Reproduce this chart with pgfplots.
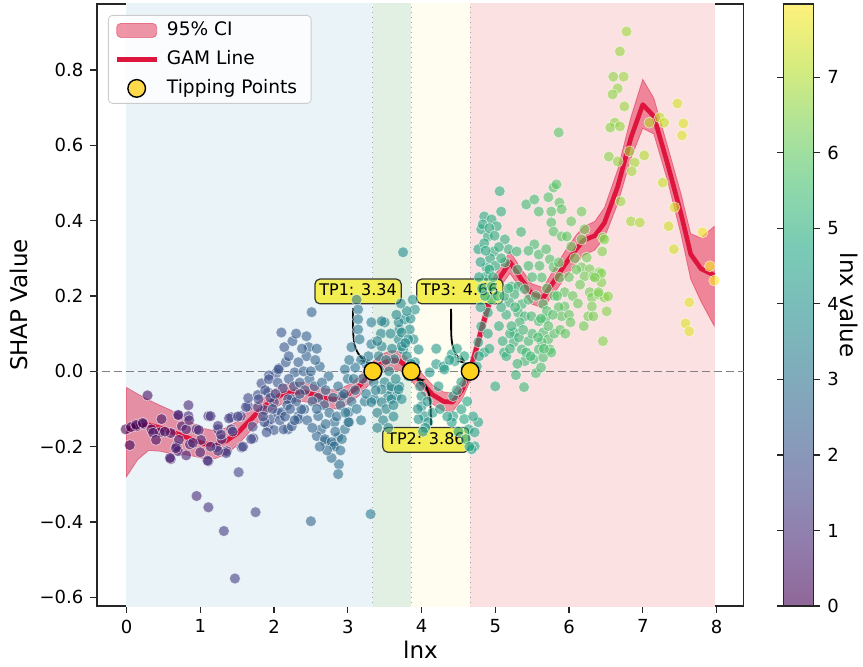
\documentclass[border=0pt]{standalone}
\usepackage{pgfplots}
\pgfplotsset{compat=1.18}
\usepackage{pgfplotstable}
\usetikzlibrary{arrows.meta}
\usepackage{fontspec}
\setmainfont{DejaVu Sans}

\definecolor{crim}{RGB}{222,22,62}
\definecolor{bgblue}{RGB}{233,243,248}
\definecolor{bggreen}{RGB}{225,240,227}
\definecolor{bgyellow}{RGB}{254,253,240}
\definecolor{bgred}{RGB}{252,225,227}
\definecolor{gold}{RGB}{255,210,30}
\definecolor{boxy}{RGB}{243,238,82}

\pgfplotsset{
  colormap={virA}{rgb255=(143,103,152) rgb255=(145,124,172) rgb255=(141,143,183) rgb255=(134,159,187) rgb255=(127,174,187) rgb255=(122,189,186) rgb255=(122,203,181) rgb255=(143,217,169) rgb255=(175,227,151) rgb255=(215,236,125) rgb255=(254,241,124)},
  colormap={vir}{rgb255=(68,1,84) rgb255=(72,36,117) rgb255=(65,68,135) rgb255=(53,95,141) rgb255=(42,120,142) rgb255=(33,145,140) rgb255=(34,168,132) rgb255=(68,191,112) rgb255=(122,209,81) rgb255=(189,223,38) rgb255=(253,231,37)},
  ciimg/.style={legend image code/.code={\draw[##1] (0pt,-3.5pt) rectangle (20pt,3.5pt);}},
  lineimg/.style={legend image code/.code={\draw[##1] (0pt,0pt) -- (20pt,0pt);}},
  markimg/.style={legend image code/.code={\draw[##1] plot coordinates {(10pt,0pt)};}},
}

\pgfplotstableread{
x y
-0.01 -0.154
0.045 -0.196
0.136 -0.146
0.226 -0.14
0.285 -0.064
0.339 -0.154
0.475 -0.127
0.45 -0.162
0.6 -0.233
0.71 -0.117
0.75 -0.146
0.68 -0.199
0.70 -0.212
0.84 -0.09
0.84 -0.119
0.81 -0.154
0.86 -0.194
0.81 -0.223
0.95 -0.154
1.0 -0.215
1.11 -0.119
1.14 -0.119
1.11 -0.239
1.24 -0.154
1.22 -0.202
1.29 -0.18
1.36 -0.212
1.42 -0.122
1.42 -0.154
1.52 -0.268
1.56 -0.202
1.55 -0.119
1.65 -0.093
1.72 -0.178
0.95 -0.331
1.11 -0.361
1.32 -0.424
1.47 -0.55
1.75 -0.374
2.5 -0.398
2.88 -0.247
0.85 -0.13
0.70 -0.116
0.6 -0.164
0.71 -0.182
0.67 -0.204
0.59 -0.23
0.98 -0.156
1.01 -0.182
0.9 -0.19
1.1 -0.237
1.24 -0.145
1.28 -0.168
1.39 -0.125
1.51 -0.12
1.44 -0.16
1.58 -0.2
1.35 -0.217
1.24 -0.211
1.14 -0.2
1.69 -0.18
1.71 -0.147
1.62 -0.095
1.65 -0.071
1.78 -0.063
1.83 -0.032
1.87 -0.103
1.92 -0.145
2.0 -0.156
1.96 -0.127
2.05 -0.111
2.03 -0.005
2.07 0.008
1.93 -0.011
1.78 -0.095
0.06 -0.148
0.13 -0.142
0.22 -0.137
0.36 -0.163
0.4 -0.182
0.52 -0.16
2.51 0.157
2.1 0.103
2.44 0.093
2.14 0.064
2.47 0.064
2.44 0.04
2.16 0.024
2.33 0.024
2.62 0.013
2.06 0.005
2.28 -0.003
2.74 -0.013
1.93 -0.021
2.87 -0.04
2.96 0.005
3.05 0.064
3.12 0.19
3.14 0.164
3.14 0.138
3.14 0.111
3.16 0.085
3.32 0.13
3.32 0.072
3.23 -0.08
2.92 -0.066
3.01 -0.109
2.6 -0.119
2.64 -0.154
2.58 -0.172
2.69 -0.186
2.8 -0.194
2.87 -0.175
2.96 -0.154
3.02 -0.135
2.87 -0.273
2.19 -0.154
1.9 -0.162
2.1 -0.109
2.33 -0.119
2.41 -0.101
2.0 -0.082
2.24 -0.074
1.79 -0.074
1.87 -0.135
1.92 -0.056
2.13 -0.154
2.24 -0.146
2.19 -0.074
2.37 -0.101
2.33 -0.127
2.69 -0.18
2.78 -0.188
2.82 -0.199
2.92 -0.18
2.82 -0.135
3.01 -0.135
2.05 -0.03
2.12 -0.045
2.2 -0.02
2.27 -0.04
2.35 -0.03
2.42 -0.05
2.48 -0.02
2.55 -0.04
2.6 -0.07
2.68 -0.09
2.75 -0.11
2.85 -0.12
2.9 -0.09
2.97 -0.11
3.05 -0.08
3.1 -0.05
3.2 -0.02
3.25 0.02
3.28 0.04
3.18 0.03
3.1 0.01
3.0 -0.02
2.56 0.03
2.38 0.06
2.25 0.08
2.18 -0.09
2.08 -0.13
1.98 -0.1
1.88 -0.05
2.3 -0.08
2.45 -0.13
2.52 -0.15
2.7 -0.14
2.9 -0.21
2.78 -0.23
2.72 -0.21
2.62 -0.2
3.08 -0.02
1.85 -0.12
1.95 -0.07
2.02 -0.06
2.15 -0.12
2.22 -0.1
2.28 -0.13
2.35 -0.06
2.4 0.0
2.5 0.0
2.52 -0.08
2.58 -0.1
2.65 -0.03
2.7 -0.05
2.8 -0.07
2.83 -0.16
2.95 -0.06
3.02 0.03
3.12 -0.1
3.18 -0.13
3.25 -0.06
2.3 0.1
2.2 0.04
2.58 0.06
3.75 0.316
3.5 0.13
3.91 0.164
3.77 0.138
3.84 0.111
3.7 0.111
3.89 0.085
3.69 0.085
3.75 0.058
3.96 0.058
3.91 0.024
4.41 0.045
4.2 0.019
4.3 0.013
4.11 -0.003
3.5 -0.029
3.42 0.005
3.59 -0.048
3.66 -0.066
3.55 -0.066
3.7 -0.04
4.0 -0.066
4.0 -0.093
4.04 -0.119
3.96 -0.127
4.09 -0.135
4.23 -0.04
4.43 -0.066
4.43 -0.119
4.54 -0.101
4.58 -0.127
4.64 -0.154
4.72 -0.162
4.72 -0.199
4.77 -0.135
4.68 -0.207
4.41 -0.135
4.54 -0.029
3.82 -0.013
3.36 -0.074
3.46 0.133
3.69 0.13
3.73 0.103
3.82 0.085
3.73 0.066
3.46 0.066
3.42 0.04
3.63 0.032
3.35 -0.029
3.46 -0.048
3.59 -0.04
3.69 -0.048
3.73 -0.074
3.59 -0.074
3.46 -0.082
3.32 -0.082
3.31 -0.379
4.45 0.027
4.31 0.005
3.38 -0.05
3.52 -0.1
3.62 -0.09
3.4 -0.11
3.56 0.0
3.65 -0.02
3.8 0.04
3.86 0.02
3.78 0.075
3.85 0.14
3.8 0.16
3.88 0.19
3.6 0.06
3.45 0.1
3.95 -0.1
4.05 -0.15
4.15 -0.11
4.08 -0.08
3.98 -0.04
4.25 -0.1
4.35 -0.12
4.5 -0.16
4.6 -0.18
4.62 -0.08
4.48 -0.05
4.38 0.03
4.6 0.01
4.65 -0.2
4.7 -0.12
3.4 0.08
3.52 0.03
3.58 0.1
3.66 0.15
3.72 0.18
3.62 -0.12
3.48 -0.13
3.4 -0.15
3.55 -0.15
4.02 -0.16
4.2 0.06
4.48 0.06
4.58 0.04
5.06 0.478
4.85 0.411
4.95 0.403
5.08 0.424
4.81 0.377
5.02 0.385
4.9 0.358
5.13 0.35
4.77 0.324
4.98 0.318
5.18 0.324
5.29 0.318
4.88 0.276
4.88 0.252
5.13 0.289
5.22 0.225
5.31 0.225
5.4 0.218
5.26 0.204
5.19 0.183
5.36 0.178
5.31 0.156
5.4 0.146
5.49 0.146
5.59 0.133
5.33 0.13
5.26 0.103
5.25 0.077
5.65 0.103
5.72 0.085
5.74 0.058
5.63 0.077
5.59 0.058
5.36 0.058
5.52 0.032
5.4 0.027
5.65 0.037
5.76 0.05
5.39 -0.042
4.95 0.225
4.95 0.191
4.9 0.156
4.81 0.119
4.77 0.077
4.85 0.05
4.75 0.013
5.42 0.443
5.53 0.456
5.59 0.424
5.72 0.462
5.79 0.488
5.83 0.496
5.76 0.424
5.87 0.448
5.76 0.395
5.79 0.371
5.9 0.358
5.53 0.337
5.59 0.31
5.69 0.324
5.74 0.297
5.79 0.276
5.86 0.289
5.63 0.249
5.87 0.249
5.94 0.21
5.94 0.172
5.86 0.17
5.9 0.146
5.65 0.178
6.03 0.398
6.17 0.424
5.97 0.358
6.03 0.331
6.24 0.302
6.17 0.276
6.28 0.271
6.21 0.252
6.33 0.252
6.41 0.263
6.44 0.236
6.28 0.21
6.31 0.196
6.4 0.204
6.48 0.196
6.53 0.199
6.51 0.159
6.31 0.172
6.26 0.146
6.46 0.08
5.9 0.43
6.17 0.35
6.46 0.355
6.21 0.377
5.0 -0.04
5.86 0.634
6.45 0.318
6.48 0.35
6.44 0.26
6.35 0.249
6.4 0.21
6.33 0.146
4.83 0.39
4.92 0.38
4.99 0.36
5.05 0.33
4.85 0.34
4.93 0.3
5.0 0.28
5.08 0.3
4.8 0.29
4.78 0.25
4.86 0.2
4.8 0.17
4.9 0.1
5.05 0.12
5.1 0.08
5.15 0.15
5.2 0.1
5.12 0.05
5.3 0.02
5.45 0.08
5.5 0.1
5.45 0.19
5.55 0.2
5.5 0.25
5.45 0.28
5.6 0.28
5.7 0.22
5.8 0.2
5.68 0.14
5.8 0.1
5.3 0.27
5.45 0.32
5.35 0.37
5.28 -0.01
5.55 -0.005
5.62 0.01
5.7 0.16
6.0 0.25
6.1 0.27
6.05 0.2
6.12 0.18
6.2 0.12
6.0 0.15
6.15 0.23
6.08 0.3
4.82 0.22
4.87 0.32
4.92 0.27
4.97 0.25
5.03 0.2
5.08 0.17
5.12 0.2
5.18 0.22
5.22 0.12
5.27 0.17
5.32 0.09
5.38 0.11
5.42 0.05
5.48 0.04
5.58 0.09
5.62 0.14
5.66 0.06
5.72 0.12
5.78 0.15
5.84 0.2
5.88 0.11
5.95 0.1
6.02 0.13
5.15 0.04
5.2 0.06
4.78 0.04
4.92 0.06
6.78 0.902
6.69 0.849
6.6 0.782
6.74 0.782
6.66 0.751
6.59 0.735
6.75 0.703
6.62 0.66
6.56 0.647
6.69 0.65
6.54 0.57
6.66 0.557
6.82 0.584
6.89 0.554
6.85 0.531
7.02 0.573
6.7 0.451
6.84 0.398
6.96 0.395
7.09 0.66
7.23 0.674
7.29 0.66
7.47 0.711
7.55 0.658
7.53 0.626
7.27 0.501
7.35 0.385
7.42 0.324
7.43 0.435
7.81 0.369
7.91 0.279
7.97 0.241
7.63 0.183
7.58 0.127
7.63 0.106
}\scatterdata

\pgfplotstableread{
x y
0.00 -0.158
0.15 -0.146
0.30 -0.142
0.45 -0.150
0.60 -0.160
0.75 -0.170
0.90 -0.182
1.05 -0.192
1.20 -0.195
1.35 -0.185
1.50 -0.165
1.65 -0.135
1.80 -0.105
1.95 -0.080
2.10 -0.062
2.25 -0.055
2.40 -0.055
2.55 -0.062
2.70 -0.072
2.85 -0.075
3.00 -0.062
3.15 -0.040
3.34 0.000
3.45 0.020
3.60 0.030
3.72 0.026
3.86 0.000
4.00 -0.030
4.15 -0.062
4.30 -0.080
4.42 -0.082
4.55 -0.050
4.66 0.000
4.82 0.115
4.98 0.225
5.10 0.260
5.20 0.290
5.35 0.245
5.50 0.205
5.65 0.195
5.80 0.240
5.95 0.285
6.10 0.325
6.20 0.348
6.35 0.360
6.48 0.394
6.66 0.490
6.84 0.620
7.00 0.708
7.15 0.677
7.34 0.548
7.52 0.417
7.65 0.311
7.79 0.272
7.97 0.255
}\gamdata

\pgfplotstableread{
x y
0.00 -0.043
0.15 -0.060
0.30 -0.076
0.45 -0.090
0.60 -0.103
0.75 -0.120
0.90 -0.138
1.05 -0.152
1.20 -0.158
1.35 -0.150
1.50 -0.133
1.65 -0.105
1.80 -0.078
1.95 -0.054
2.10 -0.037
2.25 -0.030
2.40 -0.030
2.55 -0.037
2.70 -0.047
2.85 -0.050
3.00 -0.037
3.15 -0.015
3.34 0.025
3.45 0.045
3.60 0.055
3.72 0.051
3.86 0.025
4.00 -0.005
4.15 -0.037
4.30 -0.055
4.42 -0.057
4.55 -0.025
4.66 0.025
4.82 0.140
4.98 0.250
5.10 0.287
5.20 0.318
5.35 0.272
5.50 0.232
5.65 0.222
5.80 0.272
5.95 0.320
6.10 0.362
6.20 0.384
6.35 0.398
6.48 0.434
6.66 0.535
6.84 0.675
7.00 0.775
7.15 0.725
7.34 0.595
7.52 0.470
7.65 0.365
7.79 0.354
7.97 0.385
7.97 0.120
7.79 0.185
7.65 0.245
7.52 0.362
7.34 0.503
7.15 0.630
7.00 0.645
6.84 0.565
6.66 0.445
6.48 0.354
6.35 0.322
6.20 0.308
6.10 0.288
5.95 0.250
5.80 0.208
5.65 0.168
5.50 0.178
5.35 0.218
5.20 0.260
5.10 0.233
4.98 0.200
4.82 0.090
4.66 -0.025
4.55 -0.075
4.42 -0.107
4.30 -0.105
4.15 -0.087
4.00 -0.055
3.86 -0.025
3.72 0.001
3.60 0.005
3.45 -0.005
3.34 -0.025
3.15 -0.065
3.00 -0.087
2.85 -0.100
2.70 -0.097
2.55 -0.087
2.40 -0.080
2.25 -0.080
2.10 -0.087
1.95 -0.106
1.80 -0.132
1.65 -0.165
1.50 -0.197
1.35 -0.220
1.20 -0.232
1.05 -0.232
0.90 -0.225
0.75 -0.220
0.60 -0.218
0.45 -0.212
0.30 -0.210
0.15 -0.235
0.00 -0.280
}\banddata

\begin{document}
\begin{tikzpicture}
\begin{axis}[
  scale only axis, width=323.4pt, height=301pt,
  xmin=-0.4, xmax=8.37, ymin=-0.623, ymax=0.975,
  xtick={0,1,2,3,4,5,6,7,8}, xticklabels={0,1,2,3,4,5,6,7,8},
  ytick={-0.6,-0.4,-0.2,0,0.2,0.4,0.6,0.8},
  yticklabels={−0.6,−0.4,−0.2,0.0,0.2,0.4,0.6,0.8},
  tick align=outside, tick pos=left, major tick length=3.3pt,
  tick style={black!85, line width=0.6pt},
  axis line style={black!85, line width=0.6pt},
  tick label style={font=\fontsize{9}{10}\selectfont},
  xlabel={lnx}, ylabel={SHAP Value},
  label style={font=\fontsize{11.5}{13}\selectfont},
  xlabel style={at={(axis description cs:0.5,-0.073)}, anchor=center},
  ylabel style={at={(axis description cs:-0.121,0.5)}, anchor=center},
  colormap name=vir, point meta min=0, point meta max=7.97,
  colorbar,
  colorbar shift/.style={xshift=20pt},
  colorbar style={
    at={(parent axis.north east)}, anchor=north west,
    scale only axis, width=15pt, height=301pt,
    colormap name=virA,
    ytick={0,1,2,3,4,5,6,7}, yticklabels={0,1,2,3,4,5,6,7},
    tick align=outside, major tick length=3.3pt,
    tick style={black!85, line width=0.6pt},
    axis line style={black!85, line width=0.6pt},
    yticklabel style={font=\fontsize{9}{10}\selectfont},
    ylabel={lnx value},
    ylabel style={font=\fontsize{11.5}{13}\selectfont, at={(axis description cs:2.17,0.5)}, anchor=center, rotate=180},
  },
  legend style={at={(0,1)}, anchor=north west, xshift=5.5pt, yshift=-5.5pt,
    draw=black!20, rounded corners=2pt, fill=white, fill opacity=0.8, text opacity=1,
    font=\fontsize{9.3}{11}\selectfont, inner xsep=3pt, inner ysep=1.5pt, row sep=2.5pt,
    nodes={text height=7pt, text depth=2pt, inner xsep=4pt, inner ysep=1.5pt}},
  legend cell align=left,
  clip=true,
]
% background regions
\addplot[fill=bgblue, draw=none, forget plot] coordinates {(0,-1) (3.34,-1) (3.34,1.2) (0,1.2)} -- cycle;
\addplot[fill=bggreen, draw=none, forget plot] coordinates {(3.34,-1) (3.86,-1) (3.86,1.2) (3.34,1.2)} -- cycle;
\addplot[fill=bgyellow, draw=none, forget plot] coordinates {(3.86,-1) (4.66,-1) (4.66,1.2) (3.86,1.2)} -- cycle;
\addplot[fill=bgred, draw=none, forget plot] coordinates {(4.66,-1) (7.98,-1) (7.98,1.2) (4.66,1.2)} -- cycle;
\addplot[gray!70, dotted, line width=0.5pt, forget plot] coordinates {(3.34,-1) (3.34,1.2)};
\addplot[gray!70, dotted, line width=0.5pt, forget plot] coordinates {(3.86,-1) (3.86,1.2)};
\addplot[gray!70, dotted, line width=0.5pt, forget plot] coordinates {(4.66,-1) (4.66,1.2)};
% zero line
\addplot[gray, dash pattern=on 4pt off 2pt, line width=0.7pt, forget plot] coordinates {(-0.5,0) (8.5,0)};
% scatter
\addplot[scatter, only marks, mark=*, mark size=2.75pt, point meta=x,
  scatter/use mapped color={draw=white, fill=mapped color},
  mark options={fill opacity=0.6, draw opacity=0.6, line width=0.35pt},
  forget plot] table[x=x,y=y]{\scatterdata};
% CI band
\addplot[fill=crim, fill opacity=0.45, draw=crim, draw opacity=0.45, line width=0.4pt, ciimg]
  table[x=x,y=y]{\banddata} -- cycle;
\addlegendentry{95\% CI}
\addplot[crim, line width=2.3pt, line join=round, lineimg]
  table[x=x,y=y]{\gamdata};
\addlegendentry{GAM Line}
% annotations
\draw[black, line width=0.9pt, -{Stealth[length=4.5pt,width=3.8pt]}] (axis cs:3.07,0.168) to[out=-88,in=145] (axis cs:3.285,0.022);
\draw[black, line width=0.9pt, -{Stealth[length=4.5pt,width=3.8pt]}] (axis cs:4.40,0.166) to[out=-88,in=145] (axis cs:4.61,0.020);
\draw[black, line width=0.9pt, -{Stealth[length=4.5pt,width=3.8pt]}] (axis cs:4.13,-0.142) to[out=92,in=-35] (axis cs:3.925,-0.017);
\node[fill=boxy, draw=black!80, line width=0.6pt, rounded corners=2.5pt, inner xsep=2.2pt, inner ysep=2.5pt,
  text height=5.9pt, text depth=1.5pt, font=\fontsize{8}{9}\selectfont] at (axis cs:3.14,0.212) {TP1: 3.34};
\node[fill=boxy, draw=black!80, line width=0.6pt, rounded corners=2.5pt, inner xsep=2.2pt, inner ysep=2.5pt,
  text height=5.9pt, text depth=1.5pt, font=\fontsize{8}{9}\selectfont] at (axis cs:4.52,0.212) {TP3: 4.66};
\node[fill=boxy, draw=black!80, line width=0.6pt, rounded corners=2.5pt, inner xsep=2.2pt, inner ysep=2.5pt,
  text height=5.9pt, text depth=1.5pt, font=\fontsize{8}{9}\selectfont] at (axis cs:4.06,-0.182) {TP2: 3.86};
% tipping points
\addplot[only marks, mark=*, mark size=4.4pt, mark options={fill=gold, draw=black, line width=0.7pt}, markimg]
  coordinates {(3.34,0) (3.86,0) (4.66,0)};
\addlegendentry{Tipping Points}
\end{axis}
\pgfresetboundingbox
\path[use as bounding box] (-48.5pt,-30pt) rectangle (383pt,303pt);
\end{tikzpicture}
\end{document}
